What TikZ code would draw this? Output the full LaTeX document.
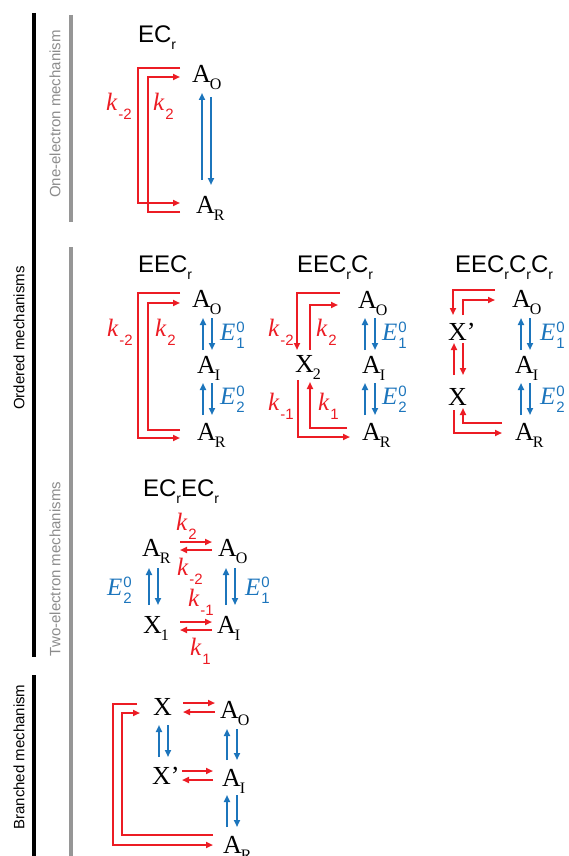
\documentclass[tikz,border=0pt]{standalone}
\usepackage{fontspec}
\setmainfont{Liberation Serif}
\setsansfont{Liberation Sans}
\usetikzlibrary{arrows.meta,calc}
\definecolor{cred}{RGB}{236,28,36}
\definecolor{cblue}{RGB}{28,117,188}
\definecolor{cgray}{RGB}{150,150,150}
\definecolor{cgtext}{RGB}{140,140,140}
\newcommand{\myspc}[2]{#1\kern-1pt\raisebox{-7pt}{\fontsize{16}{16}\selectfont #2}}
\newcommand{\myk}[1]{\textit{k}\kern1pt\raisebox{-9pt}{\sffamily\fontsize{15}{15}\selectfont #1}}
\newcommand{\myE}[2]{\textit{E}\kern1pt\rlap{\raisebox{8pt}{\sffamily\fontsize{15}{15}\selectfont #1}}\raisebox{-8pt}{\sffamily\fontsize{15}{15}\selectfont #2}}
\newcommand{\mysubr}{\raisebox{-7pt}{\fontsize{14}{14}\selectfont r}}
\begin{document}
\begin{tikzpicture}[x=1pt,y=-1pt,
  every node/.style={inner sep=0pt,outer sep=0pt},
  sp/.style={font=\fontsize{26}{26}\selectfont,anchor=base west},
  klab/.style={font=\fontsize{25}{25}\selectfont,anchor=base west,text=cred},
  elab/.style={font=\fontsize{25}{25}\selectfont,anchor=base west,text=cblue},
  ttl/.style={font=\sffamily\fontsize{24}{24}\selectfont,anchor=base west},
  side/.style={font=\sffamily\fontsize{15}{15}\selectfont,rotate=90},
  rarr/.style={draw=cred,line width=2pt,-{Triangle[length=7pt,width=6pt]}},
  barr/.style={draw=cblue,line width=2pt,-{Triangle[length=7pt,width=6pt]}},
  blk/.style={draw=black,line width=4pt},
  gry/.style={draw=cgray,line width=3.5pt}]
\useasboundingbox (0,0) rectangle (569,856);
% side bars
\draw[blk] (34,13) -- (34,657);
\draw[blk] (34,675) -- (34,856);
\draw[gry] (71,15) -- (71,222);
\draw[gry] (71,247) -- (71,856);
\node[side,text=cgtext] (l1) at (55,114) {One-electron mechanism};
\node[side] (l2) at (19,338) {Ordered mechanisms};
\node[side,text=cgtext] (l3) at (55,569) {Two-electron mechanisms};
\node[side] (l4) at (19,757) {Branched mechanism};

% ===== EC_r =====
\node[ttl] (t1) at (138,43) {EC\mysubr};
\node[sp] (AO1) at (192,83) {\myspc{A}{O}};
\node[sp] (AR1) at (196,213) {\myspc{A}{R}};
\draw[rarr] ($(AO1.base west)+(-12,-15)$) -- ++(-42,0) |- ($(AR1.base west)+(-16,-10)$);
\draw[rarr] ($(AR1.base west)+(-16,-1)$) -- ++(-32,0) |- ($(AO1.base west)+(-12,-6)$);
\node[klab] (k1a) at (106,111) {\myk{-2}};
\node[klab] (k1b) at (153,111) {\myk{2}};
\draw[barr] ($(AR1.base west)+(6,-33)$) -- ($(AO1.base west)+(10,10)$);
\draw[barr] ($(AO1.base west)+(19,14)$) -- ($(AR1.base west)+(15,-28)$);

% ===== EEC_r =====
\node[ttl] (t2) at (138,272) {EEC\mysubr};
\node[sp] (AO2) at (192,307) {\myspc{A}{O}};
\node[sp] (AI2) at (197,373) {\myspc{A}{I}};
\node[sp] (AR2) at (197,440) {\myspc{A}{R}};
\draw[rarr] ($(AO2.base west)+(-12,-14)$) -- ++(-42,0) |- ($(AR2.base west)+(-17,-2)$);
\draw[rarr] ($(AR2.base west)+(-17,-10)$) -- ++(-32,0) |- ($(AO2.base west)+(-12,-4)$);
\node[klab] (k2a) at (107,336) {\myk{-2}};
\node[klab] (k2b) at (155,336) {\myk{2}};
\draw[barr] ($(AI2.base west)+(6,-23)$) -- ($(AO2.base west)+(11,11)$);
\draw[barr] ($(AO2.base west)+(20,11)$) -- ($(AI2.base west)+(15,-23)$);
\draw[barr] ($(AR2.base west)+(6,-25)$) -- ($(AI2.base west)+(6,10)$);
\draw[barr] ($(AI2.base west)+(15,10)$) -- ($(AR2.base west)+(15,-25)$);
\node[elab] (e2a) at (220,340) {\myE{0}{1}};
\node[elab] (e2b) at (220,404) {\myE{0}{2}};

% ===== EEC_rC_r =====
\node[ttl] (t3) at (297,272) {EEC\mysubr C\mysubr};
\node[sp] (AO3) at (358,308) {\myspc{A}{O}};
\node[sp] (X2) at (295,372) {\myspc{X}{2}};
\node[sp] (AI3) at (362,373) {\myspc{A}{I}};
\node[sp] (AR3) at (362,440) {\myspc{A}{R}};
\draw[rarr] ($(AO3.base west)+(-18,-15)$) -| ($(X2.base west)+(2,-22)$);
\draw[rarr] ($(X2.base west)+(15,-22)$) |- ($(AO3.base west)+(-20,-3)$);
\draw[rarr] ($(X2.base west)+(3,8)$) |- ($(AR3.base west)+(-12,-3)$);
\draw[rarr] ($(AR3.base west)+(-15,-12)$) -| ($(X2.base west)+(15,10)$);
\node[klab] (k3a) at (268,336) {\myk{-2}};
\node[klab] (k3b) at (316,336) {\myk{2}};
\node[klab] (k3c) at (268,410) {\myk{-1}};
\node[klab] (k3d) at (318,410) {\myk{1}};
\draw[barr] ($(AI3.base west)+(3,-23)$) -- ($(AO3.base west)+(7,10)$);
\draw[barr] ($(AO3.base west)+(17,10)$) -- ($(AI3.base west)+(13,-23)$);
\draw[barr] ($(AR3.base west)+(3,-25)$) -- ($(AI3.base west)+(3,10)$);
\draw[barr] ($(AI3.base west)+(13,10)$) -- ($(AR3.base west)+(13,-25)$);
\node[elab] (e3a) at (382,340) {\myE{0}{1}};
\node[elab] (e3b) at (382,404) {\myE{0}{2}};

% ===== EEC_rC_rC_r =====
\node[ttl] (t4) at (455,272) {EEC\mysubr C\mysubr C\mysubr};
\node[sp] (AO4) at (512,307) {\myspc{A}{O}};
\node[sp] (Xp4) at (448,340) {X’};
\node[sp] (AI4) at (515,373) {\myspc{A}{I}};
\node[sp] (X4) at (448,405) {X};
\node[sp] (AR4) at (515,440) {\myspc{A}{R}};
\draw[rarr] ($(AO4.base west)+(-17,-17)$) -| ($(Xp4.base west)+(5,-25)$);
\draw[rarr] ($(Xp4.base west)+(15,-25)$) |- ($(AO4.base west)+(-17,-7)$);
\draw[rarr] ($(X4.base west)+(6,-30)$) -- ($(Xp4.base west)+(6,3)$);
\draw[rarr] ($(Xp4.base west)+(15,3)$) -- ($(X4.base west)+(15,-30)$);
\draw[rarr] ($(X4.base west)+(6,5)$) |- ($(AR4.base west)+(-13,-7)$);
\draw[rarr] ($(AR4.base west)+(-13,-17)$) -| ($(X4.base west)+(15,3)$);
\draw[barr] ($(AI4.base west)+(6,-23)$) -- ($(AO4.base west)+(9,11)$);
\draw[barr] ($(AO4.base west)+(18,11)$) -- ($(AI4.base west)+(15,-23)$);
\draw[barr] ($(AR4.base west)+(6,-25)$) -- ($(AI4.base west)+(6,10)$);
\draw[barr] ($(AI4.base west)+(15,10)$) -- ($(AR4.base west)+(15,-25)$);
\node[elab] (e4a) at (540,340) {\myE{0}{1}};
\node[elab] (e4b) at (540,404) {\myE{0}{2}};

% ===== EC_rEC_r =====
\node[ttl] (t5) at (143,496) {EC\mysubr EC\mysubr};
\node[sp] (AR5) at (142,556) {\myspc{A}{R}};
\node[sp] (AO5) at (218,556) {\myspc{A}{O}};
\node[sp] (X1) at (143,633) {\myspc{X}{1}};
\node[sp] (AI5) at (217,633) {\myspc{A}{I}};
\draw[rarr] ($(AR5.base west)+(38,-14)$) -- ($(AO5.base west)+(-6,-14)$);
\draw[rarr] ($(AO5.base west)+(-6,-6)$) -- ($(AR5.base west)+(38,-6)$);
\draw[rarr] ($(X1.base west)+(37,-11)$) -- ($(AI5.base west)+(-5,-11)$);
\draw[rarr] ($(AI5.base west)+(-5,-3)$) -- ($(X1.base west)+(37,-3)$);
\node[klab] (k5a) at (176,530) {\myk{2}};
\node[klab] (k5b) at (177,575) {\myk{-2}};
\node[klab] (k5c) at (188,606) {\myk{-1}};
\node[klab] (k5d) at (190,655) {\myk{1}};
\draw[barr] ($(X1.base west)+(6,-28)$) -- ($(AR5.base west)+(7,12)$);
\draw[barr] ($(AR5.base west)+(16,12)$) -- ($(X1.base west)+(15,-28)$);
\draw[barr] ($(AI5.base west)+(9,-28)$) -- ($(AO5.base west)+(8,12)$);
\draw[barr] ($(AO5.base west)+(17,12)$) -- ($(AI5.base west)+(18,-28)$);
\node[elab] (e5a) at (107,595) {\myE{0}{2}};
\node[elab] (e5b) at (245,595) {\myE{0}{1}};

% ===== Branched =====
\node[sp] (X6) at (153,715) {X};
\node[sp] (AO6) at (220,718) {\myspc{A}{O}};
\node[sp] (Xp6) at (152,784) {X’};
\node[sp] (AI6) at (222,786) {\myspc{A}{I}};
\node[sp] (AR6) at (223,853) {\myspc{A}{R}};
\draw[rarr] ($(X6.base west)+(30,-12)$) -- ($(AO6.base west)+(-5,-15)$);
\draw[rarr] ($(AO6.base west)+(-5,-6)$) -- ($(X6.base west)+(30,-3)$);
\draw[rarr] ($(Xp6.base west)+(30,-13)$) -- ($(AI6.base west)+(-9,-15)$);
\draw[rarr] ($(AI6.base west)+(-9,-6)$) -- ($(Xp6.base west)+(30,-4)$);
\draw[barr] ($(Xp6.base west)+(7,-27)$) -- ($(X6.base west)+(6,10)$);
\draw[barr] ($(X6.base west)+(15,10)$) -- ($(Xp6.base west)+(16,-27)$);
\draw[barr] ($(AI6.base west)+(5,-26)$) -- ($(AO6.base west)+(7,11)$);
\draw[barr] ($(AO6.base west)+(17,11)$) -- ($(AI6.base west)+(15,-26)$);
\draw[barr] ($(AR6.base west)+(4,-26)$) -- ($(AI6.base west)+(5,9)$);
\draw[barr] ($(AI6.base west)+(15,9)$) -- ($(AR6.base west)+(14,-26)$);
\draw[rarr] ($(X6.base west)+(-16,-11)$) -- ++(-24,0) |- ($(AR6.base west)+(-10,-8)$);
\draw[rarr] ($(AR6.base west)+(-10,-18)$) -- ++(-91,0) |- ($(X6.base west)+(-13,-2)$);
\end{tikzpicture}
\end{document}
